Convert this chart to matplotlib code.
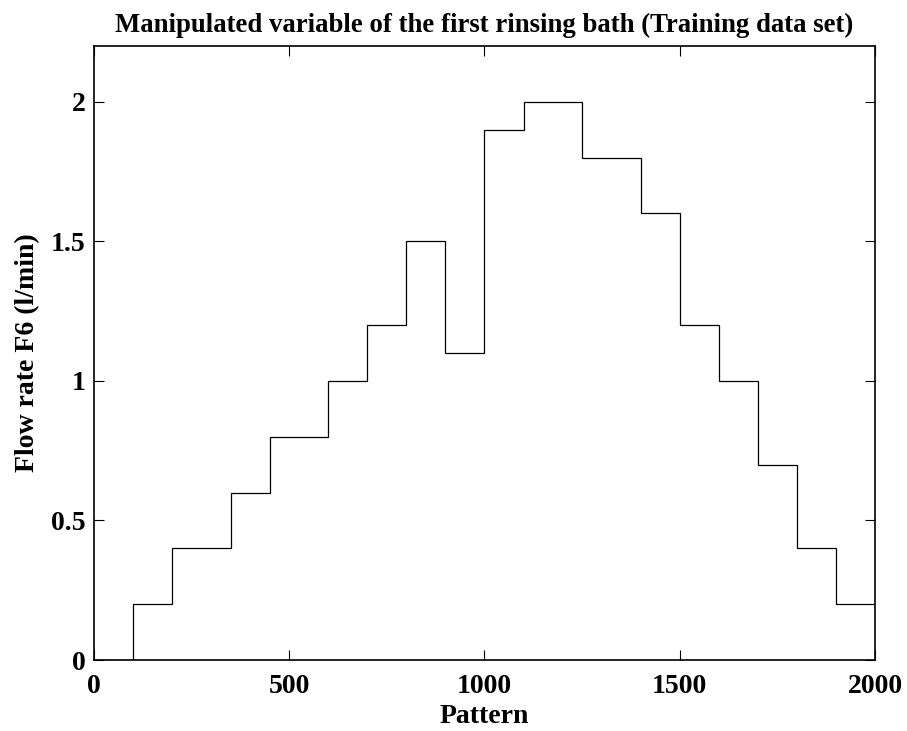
import matplotlib
matplotlib.use("Agg")
import matplotlib.pyplot as plt

# step edges (pattern index) and flow rate held over each interval
edges = [0, 100, 200, 350, 450, 600, 700, 800, 900, 1000, 1100,
         1250, 1400, 1500, 1600, 1700, 1800, 1900, 2000]
flow = [0, 0.2, 0.4, 0.6, 0.8, 1.0, 1.2, 1.5, 1.1, 1.9, 2.0,
        1.8, 1.6, 1.2, 1.0, 0.7, 0.4, 0.2]

x_ticks = [0, 500, 1000, 1500, 2000]
y_ticks = [0, 0.5, 1, 1.5, 2]
y_tick_labels = ["0", "0.5", "1", "1.5", "2"]

plt.rcParams['font.family'] = ['Liberation Serif', 'DejaVu Serif']
plt.rcParams['font.weight'] = 'bold'


def main():
    fig = plt.figure(figsize=(9.07, 7.31), dpi=100)
    ax = fig.add_axes([0.1036, 0.0971, 0.8611, 0.8399])

    ax.stairs(flow, edges, color='black', linewidth=0.9, baseline=None)

    ax.set_xlim(0, 2000)
    ax.set_ylim(0, 2.2)
    ax.set_xticks(x_ticks)
    ax.set_yticks(y_ticks)
    ax.set_yticklabels(y_tick_labels)
    ax.tick_params(direction='in', top=True, right=True, length=7,
                   width=0.8, labelsize=20, pad=6)
    ax.tick_params(axis='x', pad=10)
    for lab in ax.get_xticklabels() + ax.get_yticklabels():
        lab.set_fontweight('bold')
    for sp in ax.spines.values():
        sp.set_linewidth(1.2)

    ax.set_title('Manipulated variable of the first rinsing bath (Training data set)',
                 fontsize=19.3, fontweight='bold', pad=10)
    ax.set_xlabel('Pattern', fontsize=20, fontweight='bold', labelpad=4)
    ax.set_ylabel('Flow rate F6 (l/min)', fontsize=20, fontweight='bold', labelpad=8)

    fig.savefig('out.png', dpi=100)


if __name__ == "__main__":
    main()
